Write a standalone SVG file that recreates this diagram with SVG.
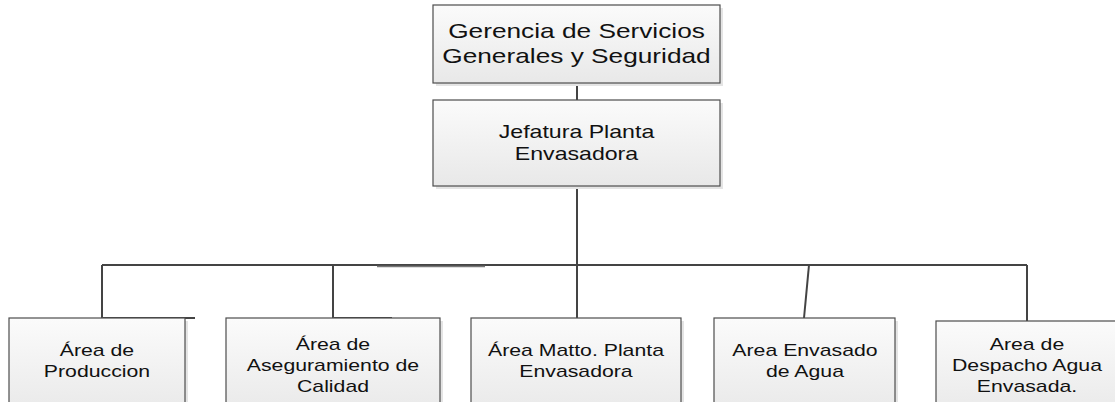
<svg xmlns="http://www.w3.org/2000/svg" width="1115" height="402" viewBox="0 0 1115 402">
<style>
.box{fill:url(#g);stroke:#4d4d4d;stroke-width:1.2}
.sh{fill:#e4e4e4}
.c{fill:none;stroke:#444;stroke-width:2}
.t{font-family:"Liberation Sans",Arial,sans-serif;fill:#111;text-anchor:middle}
.big{font-size:21px}
.mid{font-size:18.5px}
.sm{font-size:17px}
</style>
<defs>
<linearGradient id="g" x1="0" y1="0" x2="0" y2="1">
<stop offset="0" stop-color="#fbfbfb"/>
<stop offset="1" stop-color="#e8e8e8"/>
</linearGradient>
</defs>
<rect width="1115" height="402" fill="#fff"/>
<g id="connectors">
<line class="c" x1="577" y1="83" x2="577" y2="100"/>
<line class="c" x1="577" y1="186" x2="577" y2="318"/>
<line class="c" x1="102" y1="265" x2="1027" y2="265"/>
<line x1="377" y1="266.5" x2="485" y2="266.5" stroke="#777" stroke-width="1.5"/>
<polyline class="c" points="102,265 102,318 195,318"/>
<polyline class="c" points="333,265 333,318 392,318"/>
<line class="c" x1="809" y1="265" x2="804" y2="318"/>
<line class="c" x1="1027" y1="265" x2="1027" y2="321"/>
</g>
<g id="n0">
<rect class="sh" x="436" y="8" width="287" height="78"/>
<rect class="box" x="433" y="5" width="287" height="78"/>
<g transform="scale(1.25 1)"><text class="t big" x="461.2" y="38">Gerencia de Servicios</text><text class="t big" x="461.2" y="63">Generales y Seguridad</text></g>
</g>
<g id="n1">
<rect class="sh" x="436" y="103" width="287" height="86"/>
<rect class="box" x="433" y="100" width="287" height="86"/>
<g transform="scale(1.25 1)"><text class="t mid" x="461.2" y="138">Jefatura Planta</text><text class="t mid" x="461.2" y="160">Envasadora</text></g>
</g>
<g id="n2">
<rect class="sh" x="12" y="321" width="176" height="100"/>
<rect class="box" x="9" y="318" width="176" height="100"/>
<g transform="scale(1.25 1)"><text class="t sm" x="77.6" y="356">Área de</text><text class="t sm" x="77.6" y="377">Produccion</text></g>
</g>
<g id="n3">
<rect class="sh" x="229" y="321" width="214" height="100"/>
<rect class="box" x="226" y="318" width="214" height="100"/>
<g transform="scale(1.25 1)"><text class="t sm" x="266.4" y="350">Área de</text><text class="t sm" x="266.4" y="371">Aseguramiento de</text><text class="t sm" x="266.4" y="392">Calidad</text></g>
</g>
<g id="n4">
<rect class="sh" x="474" y="321" width="210" height="100"/>
<rect class="box" x="471" y="318" width="210" height="100"/>
<g transform="scale(1.25 1)"><text class="t sm" x="460.8" y="356">Área Matto. Planta</text><text class="t sm" x="460.8" y="377">Envasadora</text></g>
</g>
<g id="n5">
<rect class="sh" x="717" y="321" width="181" height="100"/>
<rect class="box" x="714" y="318" width="181" height="100"/>
<g transform="scale(1.25 1)"><text class="t sm" x="644" y="356">Area Envasado</text><text class="t sm" x="644" y="377">de Agua</text></g>
</g>
<g id="n6">
<rect class="sh" x="939" y="324" width="184" height="100"/>
<rect class="box" x="936" y="321" width="184" height="100"/>
<g transform="scale(1.25 1)"><text class="t sm" x="821.6" y="350">Area de</text><text class="t sm" x="821.6" y="371">Despacho Agua</text><text class="t sm" x="821.6" y="392">Envasada.</text></g>
</g>
</svg>
